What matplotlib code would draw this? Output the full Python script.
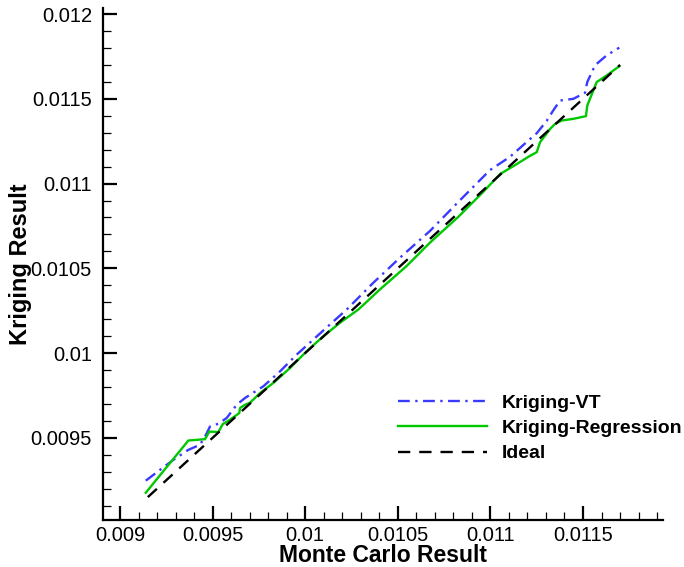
import matplotlib
matplotlib.use("Agg")
import matplotlib.pyplot as plt
from matplotlib.ticker import MultipleLocator, FuncFormatter

plt.rcParams['font.family'] = ['Liberation Sans', 'DejaVu Sans']

# Kriging-VT
vt_x = [0.009139, 0.009216, 0.009288, 0.009369, 0.009432, 0.009464, 0.009486,
        0.009531, 0.009576, 0.009630, 0.009675, 0.009774, 0.009864, 0.009954,
        0.010044, 0.010134, 0.010224, 0.010368, 0.010512, 0.010674, 0.010827,
        0.010998, 0.011106, 0.011178, 0.011250, 0.011304, 0.011339, 0.011376,
        0.011448, 0.011511, 0.011523, 0.011565, 0.011628, 0.011696]
vt_y = [0.009247, 0.009311, 0.009370, 0.009429, 0.009459, 0.009518, 0.009567,
        0.009583, 0.009617, 0.009695, 0.009735, 0.009804, 0.009892, 0.009991,
        0.010080, 0.010169, 0.010257, 0.010415, 0.010563, 0.010721, 0.010892,
        0.011080, 0.011158, 0.011228, 0.011297, 0.011370, 0.011431, 0.011490,
        0.011500, 0.011536, 0.011599, 0.011698, 0.011757, 0.011802]

# Kriging-Regression
reg_x = [0.009139, 0.009369, 0.009459, 0.009482, 0.009531, 0.009555, 0.009594,
         0.009644, 0.009648, 0.009675, 0.009702, 0.009756, 0.009828, 0.009918,
         0.010008, 0.010098, 0.010188, 0.010287, 0.010404, 0.010548, 0.010674,
         0.010827, 0.010962, 0.011052, 0.011142, 0.011214, 0.011250, 0.011268,
         0.011295, 0.011322, 0.011349, 0.011385, 0.011448, 0.011516, 0.011523,
         0.011574, 0.011628, 0.011696]
reg_y = [0.009176, 0.009484, 0.009492, 0.009537, 0.009534, 0.009581, 0.009607,
         0.009646, 0.009676, 0.009695, 0.009707, 0.009764, 0.009824, 0.009912,
         0.010011, 0.010099, 0.010179, 0.010257, 0.010376, 0.010514, 0.010652,
         0.010804, 0.010952, 0.011056, 0.011115, 0.011164, 0.011185, 0.011244,
         0.011283, 0.011322, 0.011352, 0.011372, 0.011382, 0.011398, 0.011460,
         0.011599, 0.011638, 0.011693]

# Ideal
ideal_x = [0.00915, 0.0117]
ideal_y = [0.00915, 0.0117]

fig = plt.figure(figsize=(6.84, 5.67), dpi=100)
ax = fig.add_axes([103/684, 1 - 520/567, 560/684, 512/567])

ax.plot(vt_x, vt_y, color='#3a3aff', lw=1.7, dashes=(5, 2.3, 1, 2.3), label='Kriging-VT')
ax.plot(reg_x, reg_y, color='#00c800', lw=1.7, label='Kriging-Regression')
ax.plot(ideal_x, ideal_y, color='black', lw=1.7, dashes=(5.2, 3.8), label='Ideal')

ax.set_xlim(0.008908, 0.011932)
ax.set_ylim(0.009015, 0.012036)

ax.spines['top'].set_visible(False)
ax.spines['right'].set_visible(False)
ax.spines['left'].set_linewidth(1.6)
ax.spines['bottom'].set_linewidth(1.6)

fmt = FuncFormatter(lambda v, p: '%g' % round(v, 6))
for axis in (ax.xaxis, ax.yaxis):
    axis.set_major_locator(MultipleLocator(0.0005))
    axis.set_minor_locator(MultipleLocator(0.0001))
    axis.set_major_formatter(fmt)

ax.tick_params(which='major', direction='in', length=10, width=1.6, labelsize=14.5)
ax.tick_params(which='minor', direction='in', length=6, width=0.9)
ax.tick_params(axis='x', which='major', pad=4)
ax.tick_params(axis='y', which='major', pad=8)

ax.set_xlabel('Monte Carlo Result', fontsize=16.5, fontweight='bold')
ax.set_ylabel('Kriging Result', fontsize=17, fontweight='bold')
ax.xaxis.set_label_coords(0.5, -0.047)
ax.yaxis.set_label_coords(-0.127, 0.5)

ax.legend(loc='upper left', bbox_to_anchor=(398/684, 1 - 394/567),
          bbox_transform=fig.transFigure, frameon=False, borderpad=0,
          borderaxespad=0, handlelength=4.6, handletextpad=0.75,
          labelspacing=0.4, prop={'size': 14, 'weight': 'bold'})

fig.savefig('out.png', dpi=100)
